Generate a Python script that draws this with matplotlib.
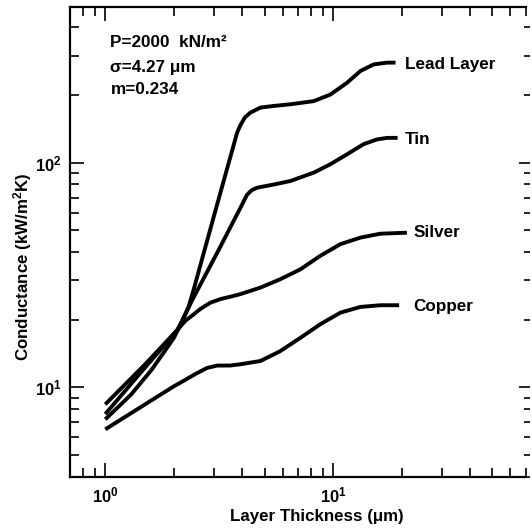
import matplotlib
matplotlib.use("Agg")
import matplotlib.pyplot as plt

plt.rcParams['font.family'] = ['Liberation Sans', 'DejaVu Sans']
plt.rcParams['font.weight'] = 'bold'
plt.rcParams['mathtext.fontset'] = 'custom'
plt.rcParams['mathtext.rm'] = 'Liberation Sans:bold'
plt.rcParams['mathtext.bf'] = 'Liberation Sans:bold'
plt.rcParams['mathtext.it'] = 'Liberation Sans:bold'

# Layer thickness (um) and conductance (kW/m^2K) for each coating
lead_x = [1.0, 1.3, 1.6, 1.85, 2.0, 2.1, 2.2, 2.32, 2.45, 3.0, 3.31, 3.79, 3.92, 4.1, 4.33,
          4.8, 5.5, 6.49, 8.22, 9.72, 11.52, 13.18, 15.08, 17.27, 18.8]
lead_y = [7.2, 9.3, 12.0, 14.8, 16.6, 18.3, 20.3, 22.8, 27.5, 58.0, 83.0, 136.0, 147.0, 159.0, 167.0,
          176.0, 179.0, 182.0, 188.0, 201.0, 227.0, 256.0, 274.0, 279.0, 279.0]

tin_x = [1.0, 1.5, 1.8, 2.07, 2.2, 2.4, 3.15, 3.92, 4.19, 4.4, 4.64, 5.5, 6.49, 8.22, 9.72,
         11.52, 13.62, 15.6, 17.27, 19.2]
tin_y = [7.6, 12.3, 15.2, 18.0, 20.2, 24.3, 41.0, 63.0, 72.0, 75.5, 77.4, 80.0, 82.9, 90.3, 98.4,
         109.0, 121.0, 127.0, 129.0, 129.0]

silver_x = [1.0, 1.5, 2.07, 2.25, 2.44, 2.61, 2.89, 3.2, 3.53, 3.92, 4.8, 5.87, 7.18, 8.79, 10.77,
            13.18, 16.13, 21.1]
silver_y = [8.4, 12.7, 18.0, 19.8, 21.1, 22.3, 23.8, 24.7, 25.3, 26.0, 27.8, 30.3, 33.5, 38.5, 43.4,
            46.4, 48.3, 48.8]

copper_x = [1.0, 1.58, 2.0, 2.21, 2.5, 2.8, 3.1, 3.53, 3.92, 4.8, 5.87, 7.18, 8.79, 10.77, 13.18,
            16.13, 19.5]
copper_y = [6.5, 8.7, 10.1, 10.7, 11.5, 12.2, 12.5, 12.5, 12.67, 13.1, 14.5, 16.6, 19.1, 21.5, 22.8,
            23.2, 23.2]

series_names = ["Lead Layer", "Tin", "Silver", "Copper"]
label_x = [20.6, 20.6, 22.5, 22.5]
label_y = [275.0, 127.0, 48.7, 22.9]

x_major = [1, 10]
x_major_labels = ["$10^{0}$", "$10^{1}$"]
x_minor = [0.7, 0.8, 0.9, 2, 3, 4, 5, 6, 7, 8, 9, 20, 30, 40, 50, 60, 70]
y_major = [10, 100]
y_major_labels = ["$10^{1}$", "$10^{2}$"]
y_minor = [4, 5, 6, 7, 8, 9, 20, 30, 40, 50, 60, 70, 80, 90, 200, 300, 400]

conditions = ["P=2000  kN/m\u00b2", "\u03c3=4.27 \u03bcm", "m=0.234"]

fig = plt.figure(figsize=(5.32, 5.29), dpi=100)
ax = fig.add_axes([70 / 532, 1 - 476.7 / 529, 460 / 532, 470 / 529])
ax.set_xscale('log')
ax.set_yscale('log')
ax.set_xlim(0.7, 73.2)
ax.set_ylim(4, 495)

for xs, ys in [(lead_x, lead_y), (tin_x, tin_y), (silver_x, silver_y), (copper_x, copper_y)]:
    ax.plot(xs, ys, color='black', lw=2.8, solid_capstyle='butt', solid_joinstyle='round')

for name, lx, ly in zip(series_names, label_x, label_y):
    ax.text(lx, ly, name, fontsize=12.3, fontweight='bold', ha='left', va='center')

for txt, yf in zip(conditions, [0.9228, 0.8717, 0.8228]):
    ax.text(0.088, yf, txt, transform=ax.transAxes, fontsize=12.3, fontweight='bold',
            ha='left', va='center')

ax.set_xticks(x_major)
ax.set_xticklabels(x_major_labels)
ax.set_xticks(x_minor, minor=True)
ax.set_xticklabels([], minor=True)
ax.set_yticks(y_major)
ax.set_yticklabels(y_major_labels)
ax.set_yticks(y_minor, minor=True)
ax.set_yticklabels([], minor=True)

ax.tick_params(which='both', direction='in', top=True, right=False, width=1.2, labelsize=12)
ax.tick_params(which='major', length=10, pad=6)
ax.tick_params(which='minor', length=6.5)

for side in ['left', 'bottom', 'top']:
    ax.spines[side].set_linewidth(1.6)
ax.spines['right'].set_visible(False)
ax.spines['bottom'].set_bounds(0.7, 70)
ax.spines['top'].set_bounds(0.7, 70)

# right-hand ticks without a visible spine
ax2 = ax.twinx()
ax2.set_yscale('log')
ax2.set_ylim(ax.get_ylim())
ax2.set_yticks(y_major)
ax2.set_yticks(y_minor, minor=True)
ax2.set_yticklabels([])
ax2.set_yticklabels([], minor=True)
ax2.tick_params(which='both', direction='in', width=1.2)
ax2.tick_params(which='major', length=8)
ax2.tick_params(which='minor', length=4)
for s in ax2.spines.values():
    s.set_visible(False)

fig.text(317 / 532, 1 - 517 / 529, "Layer Thickness (\u03bcm)", fontsize=12.2, fontweight='bold',
         ha='center', va='center')
fig.text(23 / 532, 1 - 267 / 529, "Conductance (kW/m$^{2}$K)", fontsize=12.2, fontweight='bold',
         ha='center', va='center', rotation=90)

fig.savefig("out.png", dpi=100)
